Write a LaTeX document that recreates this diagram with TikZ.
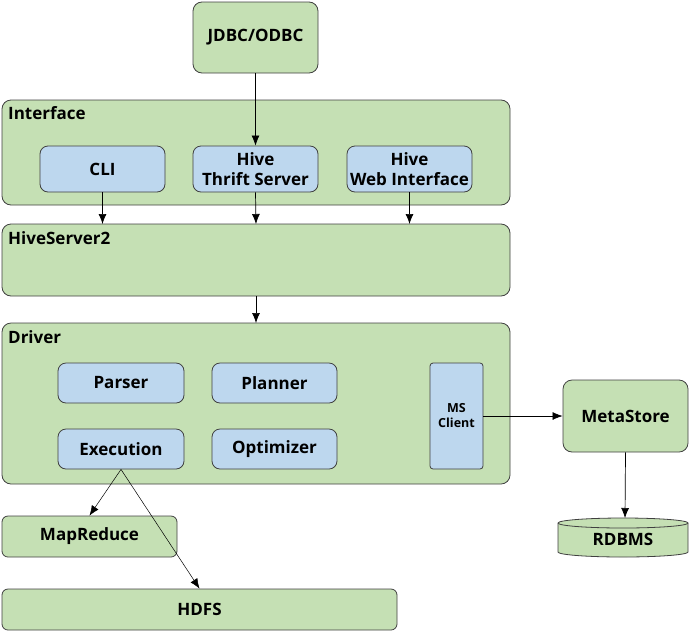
\documentclass[tikz,border=0pt]{standalone}
\usepackage{fontspec}
\setmainfont{Open Sans}
\usetikzlibrary{arrows.meta,positioning}
\definecolor{gfill}{RGB}{197,224,180}
\definecolor{bfill}{RGB}{189,215,238}
\definecolor{edge}{RGB}{64,64,64}
\begin{document}
\begin{tikzpicture}[x=1pt,y=-1pt,
  font=\fontsize{17}{19.5}\selectfont\bfseries,
  gbox/.style={draw=edge,fill=gfill,rounded corners=9pt,line width=0.8pt},
  bbox/.style={draw=edge,fill=bfill,rounded corners=8pt,line width=0.8pt},
  arr/.style={-{Latex[length=10pt,width=8pt]},line width=0.7pt,black},
  lbl/.style={anchor=west,inner sep=0pt}]
\useasboundingbox (0,0) rectangle (692,632);
% containers
\draw[gbox] (2,100) rectangle (510,205);
\node[lbl] (iflbl) at (8,113) {Interface};
\draw[gbox] (2,224) rectangle (510,296);
\node[lbl] (hslbl) at (8,238) {HiveServer2};
\draw[gbox] (2,323) rectangle (510,484);
\node[lbl] (drlbl) at (8,337) {Driver};
\coordinate (hstop) at (256,224);
\coordinate (hsbot) at (256,296);
\coordinate (drtop) at (256,323);
% boxes
\node[gbox,minimum width=125pt,minimum height=71pt] (jdbc) at (255.5,37.5) {JDBC/ODBC};
\node[bbox,minimum width=125pt,minimum height=46pt] (cli) at (102.5,169) {CLI};
\node[bbox,minimum width=125pt,minimum height=46pt,align=center,inner sep=1pt] (thrift) at (255.5,169) {Hive\\Thrift Server};
\node[bbox,minimum width=125pt,minimum height=46pt,align=center,inner sep=1pt] (web) at (409.5,169) {Hive\\Web Interface};
\node[bbox,minimum width=126pt,minimum height=40pt] (parser) at (121,383) {Parser};
\node[bbox,minimum width=125pt,minimum height=40pt] (planner) at (274.5,383) {Planner};
\node[bbox,minimum width=126pt,minimum height=40pt] (exec) at (121,449) {Execution};
\node[bbox,minimum width=125pt,minimum height=40pt] (opt) at (274.5,449) {Optimizer};
\node[draw=edge,fill=bfill,rounded corners=3pt,line width=0.8pt,minimum width=53pt,minimum height=106pt,align=center,inner sep=1pt,font=\fontsize{12.5}{15}\selectfont\bfseries] (ms) at (456.5,416) {MS\\Client};
\node[gbox,minimum width=125pt,minimum height=72pt] (meta) at (625.5,416) {MetaStore};
\node[gbox,rounded corners=6pt,minimum width=175pt,minimum height=41pt] (mr) at (89.5,536.5) {MapReduce};
\node[gbox,rounded corners=6pt,minimum width=395pt,minimum height=41pt] (hdfs) at (199.5,609.5) {HDFS};
% cylinder
\draw[draw=edge,fill=gfill,line width=0.8pt] (558,523) -- (558,552) arc[start angle=180,end angle=360,x radius=65,y radius=-5] -- (688,523) arc[start angle=0,end angle=180,x radius=65,y radius=-5] -- cycle;
\draw[draw=edge,line width=0.8pt] (558,523) arc[start angle=180,end angle=360,x radius=65,y radius=-5];
\node (rdbms) at (623,539) {RDBMS};
\coordinate (rdtop) at (625,518);
% arrows
\draw[arr] (jdbc.south) -- (thrift.north);
\draw[arr] (cli.south) -- (cli.south |- hstop);
\draw[arr] (thrift.south) -- (hstop);
\draw[arr] (web.south) -- (web.south |- hstop);
\draw[arr] (hsbot) -- (drtop);
\draw[arr] (ms.east) -- (meta.west);
\draw[arr] (meta.south) -- (rdtop);
\draw[arr,line width=0.5pt] (exec.south) -- (mr.north);
\draw[arr,line width=0.5pt] (exec.south) -- (hdfs.north);
\end{tikzpicture}
\end{document}
